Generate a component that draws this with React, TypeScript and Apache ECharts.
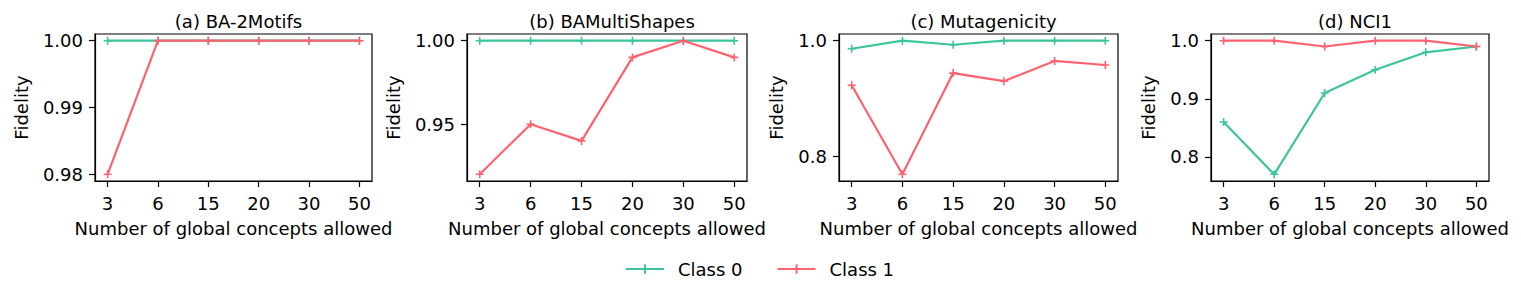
import React, { useEffect, useRef } from "react";
import * as echarts from "echarts";

const xLabels = ["3", "6", "15", "20", "30", "50"];
const titles = ["(a) BA-2Motifs", "(b) BAMultiShapes", "(c) Mutagenicity", "(d) NCI1"];
const seriesNames = ["Class 0", "Class 1"];

const baClass0 = [1.0, 1.0, 1.0, 1.0, 1.0, 1.0];
const baClass1 = [0.98, 1.0, 1.0, 1.0, 1.0, 1.0];
const bamsClass0 = [1.0, 1.0, 1.0, 1.0, 1.0, 1.0];
const bamsClass1 = [0.92, 0.95, 0.94, 0.99, 1.0, 0.99];
const mutaClass0 = [0.986, 1.0, 0.993, 1.0, 1.0, 1.0];
const mutaClass1 = [0.923, 0.769, 0.944, 0.93, 0.965, 0.958];
const nciClass0 = [0.86, 0.77, 0.91, 0.95, 0.98, 0.99];
const nciClass1 = [1.0, 1.0, 0.99, 1.0, 1.0, 0.99];

const yTicks = [
  [0.98, 0.99, 1.0],
  [0.95, 1.0],
  [0.8, 1.0],
  [0.8, 0.9, 1.0],
];
const yDecimals = [2, 2, 1, 1];

const panelData = [
  [baClass0, baClass1],
  [bamsClass0, bamsClass1],
  [mutaClass0, mutaClass1],
  [nciClass0, nciClass1],
];

const colors = ["#3cc49d", "#ff626f"];
const FONT = "DejaVu Sans";
const FS = 18;
const plusPath =
  "path://M-1,-5L1,-5L1,-1L5,-1L5,1L1,1L1,5L-1,5L-1,1L-5,1L-5,-1L-1,-1Z";

const gridLefts = [95, 467, 839, 1211];
const gridWidths = [277, 280, 279, 278];
const yNameGaps = [65, 65, 54, 54];

export default function App() {
  const ref = useRef<HTMLDivElement>(null);
  useEffect(() => {
    if (!ref.current) return;
    const chart = echarts.init(ref.current, undefined, { renderer: "svg" });
    const grids: any[] = [];
    const xAxes: any[] = [];
    const yAxes: any[] = [];
    const series: any[] = [];
    const title: any[] = [];
    const xIdx = xLabels.map((_, i) => i);
    const axisLine = { show: true, onZero: false, lineStyle: { color: "#000", width: 1.2 } };
    for (let p = 0; p < 4; p++) {
      grids.push({
        left: gridLefts[p],
        top: 34,
        width: gridWidths[p],
        height: 147,
        show: true,
        borderColor: "#000",
        borderWidth: 1.2,
        backgroundColor: "transparent",
      });
      title.push({
        text: titles[p],
        left: gridLefts[p] + gridWidths[p] / 2,
        top: 7,
        textAlign: "center",
        textStyle: { fontFamily: FONT, fontSize: FS, fontWeight: "normal", color: "#000" },
      });
      xAxes.push({
        type: "value",
        gridIndex: p,
        position: "bottom",
        min: -0.25,
        max: 5.25,
        axisLine,
        axisTick: {
          show: true,
          inside: false,
          length: 6,
          customValues: xIdx,
          lineStyle: { color: "#000", width: 1.2 },
        },
        axisLabel: {
          customValues: xIdx,
          formatter: (v: number) => xLabels[Math.round(v)] ?? "",
          fontFamily: FONT,
          fontSize: FS,
          color: "#000",
          margin: 13,
        },
        splitLine: { show: false },
        name: "Number of global concepts allowed",
        nameLocation: "middle",
        nameGap: 38,
        nameTextStyle: { fontFamily: FONT, fontSize: FS, color: "#000" },
      });
      const allVals = [...panelData[p][0], ...panelData[p][1]];
      const lo = Math.min(...allVals);
      const hi = Math.max(...allVals);
      const pad = (hi - lo) * 0.05;
      yAxes.push({
        type: "value",
        gridIndex: p,
        position: "left",
        min: lo - pad,
        max: hi + pad,
        axisLine,
        axisTick: {
          show: true,
          inside: false,
          length: 6,
          customValues: yTicks[p],
          lineStyle: { color: "#000", width: 1.2 },
        },
        axisLabel: {
          customValues: yTicks[p],
          formatter: (v: number) => v.toFixed(yDecimals[p]),
          fontFamily: FONT,
          fontSize: FS,
          color: "#000",
          margin: 12,
        },
        splitLine: { show: false },
        name: "Fidelity",
        nameLocation: "middle",
        nameGap: yNameGaps[p],
        nameTextStyle: { fontFamily: FONT, fontSize: FS, color: "#000" },
      });
      for (let s = 0; s < 2; s++) {
        series.push({
          type: "line",
          name: seriesNames[s],
          xAxisIndex: p,
          yAxisIndex: p,
          data: panelData[p][s].map((v, i) => [i, v]),
          symbol: plusPath,
          symbolSize: 8,
          showSymbol: true,
          lineStyle: { color: colors[s], width: 2.2 },
          itemStyle: { color: colors[s] },
          z: 2 + s,
        });
      }
    }
    chart.setOption({
      animation: false,
      backgroundColor: "#fff",
      title,
      grid: grids,
      xAxis: xAxes,
      yAxis: yAxes,
      series,
      legend: {
        data: seriesNames,
        left: 620,
        top: 255,
        itemWidth: 38,
        itemHeight: 12,
        itemGap: 34,
        textStyle: { fontFamily: FONT, fontSize: FS, color: "#000", padding: [0, 0, 0, 9] },
      },
    });
    return () => chart.dispose();
  }, []);
  return (
    <div
      ref={ref}
      style={{ position: "absolute", left: 0, top: 0, width: 1521, height: 295 }}
    />
  );
}
